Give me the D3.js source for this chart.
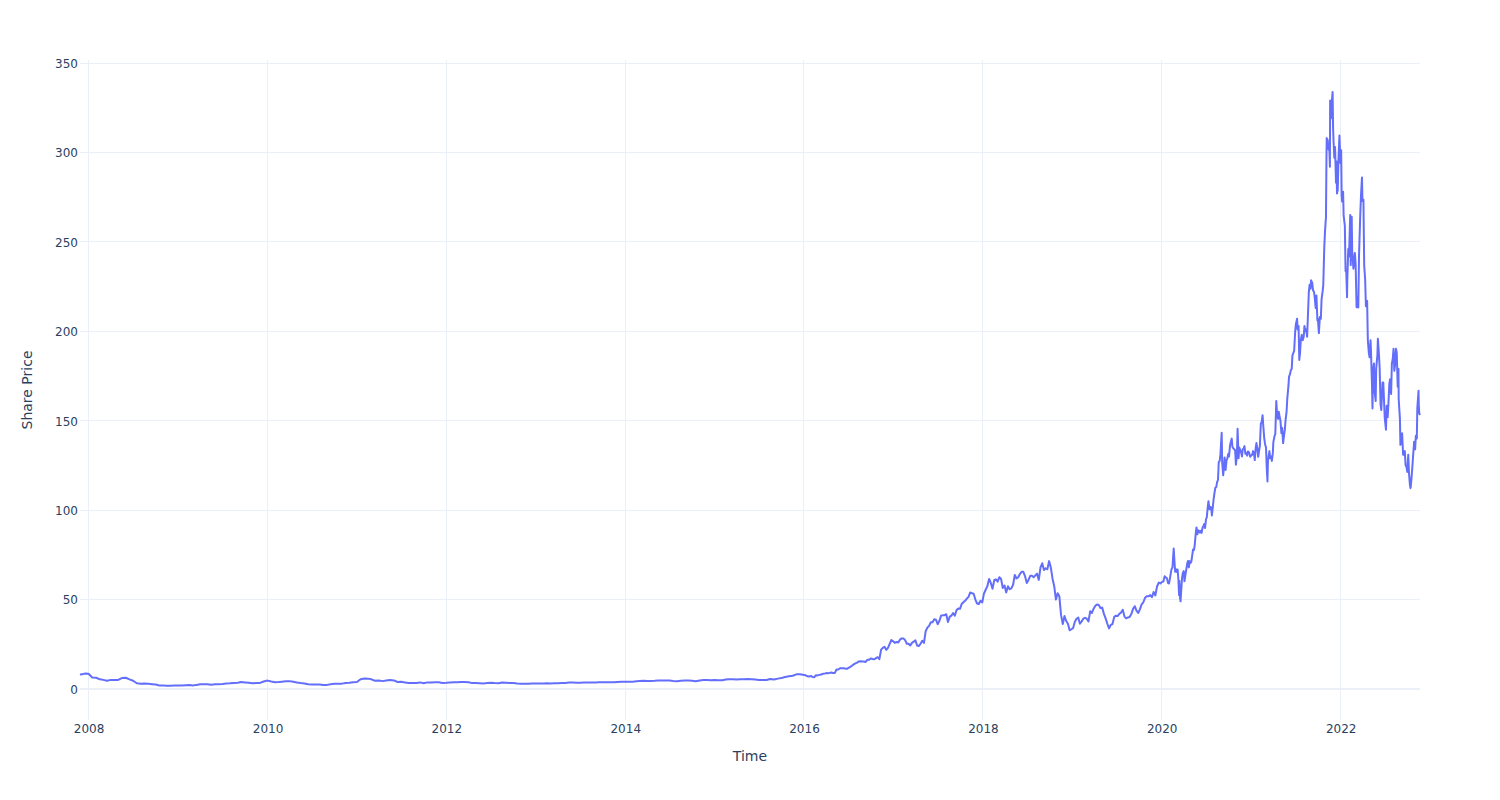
<!DOCTYPE html>
<html>
<head>
<meta charset="utf-8">
<script src="https://cdn.jsdelivr.net/npm/d3@7"></script>
<style>
  body { margin: 0; background: #ffffff; }
  svg { display: block; }
</style>
</head>
<body>
<svg id="chart" width="1500" height="800"></svg>
<script>
// ---------------- DATA ----------------
const xTickYears = [2008, 2010, 2012, 2014, 2016, 2018, 2020, 2022];
const yTickValues = [0, 50, 100, 150, 200, 250, 300, 350];
const xAxisTitle = "Time";
const yAxisTitle = "Share Price";

const firstPoint = ["2007-11-27", 8.3];

// semi-monthly (1st and 16th) from 2007-12-01 to 2015-12-16
const semiMonthlyStart = "2007-12-01";
const semiMonthlyPrices = [
  8.1, 8.6,
  8.5, 6.4, 6.3, 5.4, 5.1, 4.6, 5.1, 5.0, 5.1, 6.1, 6.3, 5.4, 4.6, 3.2, 3.0, 3.1, 2.9, 2.7, 2.5, 2.0, 2.0, 1.8, 1.8, 2.0,
  2.0, 2.0, 2.1, 2.2, 1.9, 2.3, 2.6, 2.6, 2.7, 2.4, 2.6, 2.6, 2.8, 3.1, 3.2, 3.4, 3.5, 3.9, 3.7, 3.5, 3.2, 3.4, 3.4, 4.2,
  4.7, 4.2, 3.8, 3.9, 4.1, 4.3, 4.4, 4.1, 3.6, 3.3, 3.1, 2.7, 2.5, 2.5, 2.5, 2.3, 2.3, 2.7, 2.9, 3.0, 3.0, 3.4, 3.5, 3.8,
  3.9, 5.5, 5.9, 5.8, 5.4, 4.6, 4.7, 4.4, 4.8, 5.0, 4.8, 3.9, 4.0, 3.7, 3.4, 3.3, 3.4, 3.7, 3.2, 3.7, 3.7, 3.8, 3.8, 3.4,
  3.5, 3.7, 3.8, 3.8, 3.9, 3.9, 3.8, 3.3, 3.3, 3.2, 3.1, 3.4, 3.5, 3.3, 3.2, 3.6, 3.5, 3.4, 3.3, 3.1, 3.0, 2.9, 3.0, 3.1,
  3.1, 3.1, 3.1, 3.2, 3.1, 3.2, 3.2, 3.3, 3.4, 3.6, 3.6, 3.5, 3.5, 3.6, 3.6, 3.7, 3.7, 3.8, 3.8, 3.8, 3.8, 3.8, 3.9, 4.0,
  4.0, 4.0, 4.0, 4.3, 4.5, 4.6, 4.5, 4.5, 4.6, 4.8, 4.8, 4.7, 4.7, 4.5, 4.4, 4.6, 4.8, 4.7, 4.6, 4.3, 4.8, 5.0, 5.0, 4.9,
  5.0, 4.9, 4.9, 5.3, 5.4, 5.4, 5.3, 5.4, 5.5, 5.6, 5.5, 5.3, 5.0, 5.0, 5.0, 5.6, 5.3, 5.8, 6.2, 6.7, 7.1, 7.4, 8.2, 8.2
];

// weekly (Fridays) from 2016-01-08 to 2019-12-27
const weeklyStart = "2016-01-08";
const weeklyPrices = [
  // 2016
  7.65, 7.1, 7.0, 7.3, 6.7, 6.6, 7.7, 7.6, 7.9, 8.1, 8.5, 8.6, 8.9, 8.75, 9.0, 9.25, 8.9, 9.0, 10.9, 10.9,
  11.6, 11.6, 11.6, 11.5, 11.25, 11.8, 12.35, 13.0, 13.75, 14.3, 14.8, 15.4, 15.5, 15.4, 15.4, 15.1, 16.3, 16.3,
  17.1, 16.75, 16.6, 17.25, 17.8, 16.7, 22.0, 23.0, 23.6, 21.9, 23.0, 25.2, 27.4, 26.7,
  // 2017
  25.8, 26.3, 26.0, 27.6, 28.3, 28.3, 27.3, 25.3, 25.3, 24.3, 25.8, 26.5, 27.2, 24.3, 24.0, 25.3, 27.0,
  25.8, 32.3, 34.3, 35.3, 37.3, 37.3, 39.0, 38.8, 36.2, 38.0, 41.0, 41.3, 41.3, 41.8, 37.5, 40.3, 41.0,
  42.5, 41.0, 44.0, 45.0, 44.8, 47.5, 48.5, 49.3, 50.5, 51.5, 54.0, 53.5, 53.3, 50.0, 47.8, 47.5, 49.3, 48.4,
  // 2018
  53.3, 55.5, 57.5, 61.5, 59.3, 56.0, 60.8, 61.3, 60.0, 62.5, 61.5, 56.5, 57.9, 54.0, 57.5, 55.8, 56.3,
  58.3, 63.8, 61.8, 62.5, 64.3, 65.5, 65.5, 63.0, 59.3, 61.0, 63.3, 63.3, 62.5, 63.5, 64.5, 61.0, 68.0, 70.3,
  66.5, 67.5, 67.0, 71.5, 68.0, 61.8, 57.5, 50.0, 53.5, 51.8, 41.3, 36.3, 40.8, 38.0, 36.5, 32.8, 33.4,
  // 2019
  34.0, 37.5, 39.3, 40.0, 36.5, 37.8, 39.3, 39.8, 39.3, 37.8, 43.5, 42.5, 44.9, 46.5, 47.3, 47.0, 45.3,
  45.5, 42.0, 39.5, 36.5, 33.9, 35.8, 36.3, 40.3, 41.0, 40.8, 42.0, 42.8, 44.3, 40.5, 39.5, 40.0, 40.3, 41.9,
  44.8, 46.3, 43.8, 42.5, 44.5, 47.3, 48.5, 51.0, 51.8, 51.8, 52.5, 51.3, 54.2, 52.3, 57.3, 59.5, 59.0
];

// 2020 - 2022, dated readings
const recentSeries = [
  ["2020-01-02",59.9],["2020-01-08",60.1],["2020-01-13",63.0],["2020-01-17",62.5],["2020-01-22",62.0],["2020-01-27",59.2],
  ["2020-01-31",59.0],["2020-02-05",63.0],["2020-02-10",67.0],["2020-02-14",67.9],["2020-02-19",78.5],["2020-02-21",73.9],
  ["2020-02-25",65.5],["2020-02-28",67.0],["2020-03-03",65.5],["2020-03-06",66.8],["2020-03-09",61.5],["2020-03-12",52.5],
  ["2020-03-13",60.5],["2020-03-16",51.0],["2020-03-18",49.0],["2020-03-20",53.5],["2020-03-24",62.0],["2020-03-27",64.7],
  ["2020-03-31",65.9],["2020-04-03",60.2],["2020-04-07",64.0],["2020-04-10",66.4],["2020-04-14",70.0],["2020-04-17",71.6],
  ["2020-04-21",68.0],["2020-04-24",71.5],["2020-04-28",70.5],["2020-05-01",71.3],["2020-05-05",75.0],["2020-05-08",78.0],
  ["2020-05-12",77.8],["2020-05-15",80.5],["2020-05-19",87.0],["2020-05-22",90.3],["2020-05-26",86.5],["2020-05-29",88.8],
  ["2020-06-02",88.3],["2020-06-05",87.5],["2020-06-09",88.5],["2020-06-12",87.3],["2020-06-16",90.3],["2020-06-19",91.0],
  ["2020-06-23",92.3],["2020-06-26",90.0],["2020-06-30",95.0],["2020-07-03",95.8],["2020-07-07",101.5],["2020-07-10",105.0],
  ["2020-07-14",100.5],["2020-07-17",101.8],["2020-07-21",101.5],["2020-07-24",97.0],["2020-07-28",102.0],["2020-07-31",106.1],
  ["2020-08-04",110.0],["2020-08-07",112.5],["2020-08-11",113.0],["2020-08-14",115.5],["2020-08-18",117.0],["2020-08-21",126.8],
  ["2020-08-25",127.5],["2020-08-28",131.3],["2020-09-02",143.3],["2020-09-04",126.5],["2020-09-08",119.5],["2020-09-10",122.0],
  ["2020-09-14",129.5],["2020-09-18",122.5],["2020-09-22",128.0],["2020-09-25",128.8],["2020-09-29",131.5],["2020-10-02",130.0],
  ["2020-10-06",136.0],["2020-10-09",138.0],["2020-10-13",140.0],["2020-10-16",135.3],["2020-10-20",134.5],["2020-10-23",134.0],
  ["2020-10-27",133.5],["2020-10-30",125.4],["2020-11-03",130.0],["2020-11-06",145.5],["2020-11-10",129.0],["2020-11-13",135.0],
  ["2020-11-17",133.5],["2020-11-20",132.5],["2020-11-24",130.0],["2020-11-27",134.0],["2020-12-01",134.5],["2020-12-04",135.8],
  ["2020-12-08",131.5],["2020-12-11",132.0],["2020-12-15",130.5],["2020-12-18",132.8],["2020-12-22",132.5],["2020-12-28",129.8],
  ["2020-12-31",130.5],
  ["2021-01-05",131.0],["2021-01-08",133.0],["2021-01-12",132.0],["2021-01-15",128.0],["2021-01-19",135.0],["2021-01-22",137.5],
  ["2021-01-26",134.0],["2021-01-29",129.8],["2021-02-02",133.5],["2021-02-05",136.0],["2021-02-09",148.5],["2021-02-12",149.0],
  ["2021-02-16",153.0],["2021-02-19",147.0],["2021-02-23",140.0],["2021-02-26",137.0],["2021-03-02",135.0],["2021-03-05",124.0],
  ["2021-03-08",116.0],["2021-03-10",128.0],["2021-03-12",129.5],["2021-03-16",133.0],["2021-03-19",129.0],["2021-03-23",130.0],
  ["2021-03-26",127.5],["2021-03-30",132.0],["2021-04-01",138.0],["2021-04-06",141.5],["2021-04-09",142.5],["2021-04-13",161.0],
  ["2021-04-16",154.0],["2021-04-20",151.0],["2021-04-23",155.0],["2021-04-27",152.0],["2021-04-30",150.0],["2021-05-04",143.0],
  ["2021-05-07",146.0],["2021-05-11",137.5],["2021-05-13",140.0],["2021-05-18",145.0],["2021-05-21",150.5],["2021-05-25",155.0],
  ["2021-05-28",162.4],["2021-06-02",170.0],["2021-06-04",174.5],["2021-06-08",176.0],["2021-06-11",178.0],["2021-06-15",179.0],
  ["2021-06-18",186.5],["2021-06-22",188.0],["2021-06-25",189.0],["2021-06-29",199.5],["2021-07-02",204.0],["2021-07-07",207.0],
  ["2021-07-09",201.0],["2021-07-13",203.0],["2021-07-16",184.0],["2021-07-19",187.8],["2021-07-22",195.0],["2021-07-26",198.0],
  ["2021-07-30",195.0],["2021-08-03",197.0],["2021-08-06",203.0],["2021-08-10",200.0],["2021-08-13",201.0],["2021-08-17",197.0],
  ["2021-08-20",208.0],["2021-08-24",222.0],["2021-08-27",226.0],["2021-08-31",223.8],["2021-09-02",228.5],["2021-09-07",227.0],
  ["2021-09-10",223.0],["2021-09-14",222.0],["2021-09-17",219.0],["2021-09-21",213.0],["2021-09-24",220.0],["2021-09-28",206.0],
  ["2021-09-30",207.0],["2021-10-04",199.0],["2021-10-08",208.0],["2021-10-12",207.0],["2021-10-15",218.0],["2021-10-19",222.0],
  ["2021-10-22",226.0],["2021-10-26",247.0],["2021-10-29",255.7],["2021-11-02",264.0],["2021-11-04",297.5],["2021-11-05",308.0],
  ["2021-11-09",307.0],["2021-11-12",302.0],["2021-11-16",301.0],["2021-11-18",292.0],["2021-11-19",329.0],["2021-11-22",319.0],
  ["2021-11-24",325.0],["2021-11-29",333.8],["2021-12-01",314.0],["2021-12-03",306.0],["2021-12-06",297.0],["2021-12-09",303.0],
  ["2021-12-13",283.0],["2021-12-15",295.0],["2021-12-17",277.0],["2021-12-20",279.0],["2021-12-23",296.0],["2021-12-27",309.5],
  ["2021-12-31",294.1],
  ["2022-01-03",301.2],["2022-01-05",276.0],["2022-01-07",272.5],["2022-01-11",278.0],["2022-01-13",265.0],["2022-01-18",259.0],
  ["2022-01-21",233.7],["2022-01-24",233.0],["2022-01-27",219.0],["2022-01-28",228.4],["2022-02-01",246.0],["2022-02-04",242.0],
  ["2022-02-09",265.0],["2022-02-11",237.0],["2022-02-15",264.0],["2022-02-17",245.0],["2022-02-22",235.0],["2022-02-24",237.5],
  ["2022-02-28",243.8],["2022-03-03",238.0],["2022-03-07",213.5],["2022-03-10",219.0],["2022-03-14",213.3],["2022-03-17",242.5],
  ["2022-03-22",265.0],["2022-03-25",276.0],["2022-03-29",286.0],["2022-03-31",272.9],["2022-04-04",273.6],["2022-04-07",237.0],
  ["2022-04-11",229.0],["2022-04-14",214.0],["2022-04-19",217.0],["2022-04-22",195.0],["2022-04-26",187.9],["2022-04-29",185.5],
  ["2022-05-03",195.0],["2022-05-05",188.0],["2022-05-09",169.5],["2022-05-11",156.9],["2022-05-13",178.0],["2022-05-17",182.0],
  ["2022-05-19",167.3],["2022-05-24",161.0],["2022-05-26",178.8],["2022-05-31",186.7],["2022-06-02",195.8],["2022-06-06",187.8],
  ["2022-06-09",180.0],["2022-06-13",158.8],["2022-06-16",156.0],["2022-06-21",171.3],["2022-06-24",171.3],["2022-06-28",158.3],
  ["2022-06-30",151.6],["2022-07-05",145.0],["2022-07-08",158.4],["2022-07-12",152.0],["2022-07-15",159.5],["2022-07-19",171.0],
  ["2022-07-22",173.2],["2022-07-26",165.0],["2022-07-29",181.6],["2022-08-02",185.0],["2022-08-05",190.3],["2022-08-08",177.9],
  ["2022-08-11",181.0],["2022-08-15",190.2],["2022-08-18",188.0],["2022-08-22",169.0],["2022-08-25",179.0],["2022-08-26",162.0],
  ["2022-08-31",151.0],["2022-09-02",136.5],["2022-09-06",137.5],["2022-09-09",143.0],["2022-09-13",131.0],["2022-09-16",131.0],
  ["2022-09-20",133.0],["2022-09-23",125.2],["2022-09-27",124.1],["2022-09-30",121.4],["2022-10-04",131.0],["2022-10-07",120.8],
  ["2022-10-11",114.0],["2022-10-13",112.3],["2022-10-14",112.9],["2022-10-18",119.0],["2022-10-21",124.7],["2022-10-25",132.6],
  ["2022-10-28",138.3],["2022-11-01",134.0],["2022-11-04",141.6],["2022-11-08",140.0],["2022-11-10",157.0],["2022-11-15",166.7],
  ["2022-11-16",159.1],["2022-11-18",154.1],["2022-11-21",153.2]
];

// ---------------- BUILD SERIES ----------------
const parse = d3.utcParse("%Y-%m-%d");
const series = [];
series.push({ date: parse(firstPoint[0]), price: firstPoint[1] });
const smStart = parse(semiMonthlyStart);
semiMonthlyPrices.forEach((p, i) => {
  const m = Math.floor(i / 2);
  const d = new Date(Date.UTC(smStart.getUTCFullYear(), smStart.getUTCMonth() + m, i % 2 ? 16 : 1));
  series.push({ date: d, price: p });
});
const wStart = parse(weeklyStart);
weeklyPrices.forEach((p, i) => series.push({ date: d3.utcDay.offset(wStart, 7 * i), price: p }));
recentSeries.forEach(([d, p]) => series.push({ date: parse(d), price: p }));
series.sort((a, b) => a.date - b.date);

// ---------------- LAYOUT ----------------
const W = 1500, H = 800;
const margin = { left: 80, right: 80, top: 60, bottom: 80 };
const plotL = margin.left, plotR = W - margin.right, plotT = margin.top, plotB = H - margin.bottom;
const FONT = "'DejaVu Sans', Verdana, sans-serif";
const TEXT = "#2a3f5f";
const GRID = "#EBF0F8";

const x = d3.scaleUtc().domain(d3.extent(series, d => d.date)).range([plotL, plotR]);
const y = d3.scaleLinear().domain([-17.33, 351.68]).range([plotB, plotT]);

const svg = d3.select("#chart");
svg.append("rect").attr("width", W).attr("height", H).attr("fill", "#ffffff");

const xTicks = xTickYears.map(yr => new Date(Date.UTC(yr, 0, 1)));

// vertical grid
svg.append("g").selectAll("line").data(xTicks).join("line")
  .attr("x1", d => x(d)).attr("x2", d => x(d))
  .attr("y1", plotT).attr("y2", plotB)
  .attr("stroke", GRID).attr("stroke-width", 1).attr("shape-rendering", "crispEdges");

// horizontal grid (non-zero)
svg.append("g").selectAll("line").data(yTickValues.filter(v => v !== 0)).join("line")
  .attr("x1", plotL).attr("x2", plotR)
  .attr("y1", d => y(d)).attr("y2", d => y(d))
  .attr("stroke", GRID).attr("stroke-width", 1).attr("shape-rendering", "crispEdges");

// zero line
svg.append("line")
  .attr("x1", plotL).attr("x2", plotR)
  .attr("y1", y(0)).attr("y2", y(0))
  .attr("stroke", GRID).attr("stroke-width", 2);

// x tick labels via axis
const xAxis = d3.axisBottom(x).tickValues(xTicks).tickFormat(d3.utcFormat("%Y")).tickSize(0).tickPadding(0);
const gx = svg.append("g").attr("transform", `translate(0,${plotB})`).call(xAxis);
gx.select(".domain").remove();
gx.selectAll("text").attr("dy", null).attr("y", 13).attr("font-family", FONT).attr("font-size", 12).attr("fill", TEXT);

// y tick labels via axis
const yAxis = d3.axisLeft(y).tickValues(yTickValues).tickFormat(d3.format("d")).tickSize(0).tickPadding(2);
const gy = svg.append("g").attr("transform", `translate(${plotL},0)`).call(yAxis);
gy.select(".domain").remove();
gy.selectAll("text").attr("dy", "0.36em").attr("font-family", FONT).attr("font-size", 12).attr("fill", TEXT);

// line
const line = d3.line().x(d => x(d.date)).y(d => y(d.price));
svg.append("path").datum(series)
  .attr("d", line)
  .attr("fill", "none")
  .attr("stroke", "#636efa")
  .attr("stroke-width", 2)
  .attr("stroke-linejoin", "round");

// axis titles
svg.append("text")
  .attr("x", (plotL + plotR) / 2).attr("y", 761)
  .attr("text-anchor", "middle")
  .attr("font-family", FONT).attr("font-size", 14).attr("fill", TEXT)
  .text(xAxisTitle);

svg.append("text")
  .attr("transform", `translate(32,${(plotT + plotB) / 2}) rotate(-90)`)
  .attr("text-anchor", "middle")
  .attr("font-family", FONT).attr("font-size", 14).attr("fill", TEXT)
  .text(yAxisTitle);
</script>
</body>
</html>
